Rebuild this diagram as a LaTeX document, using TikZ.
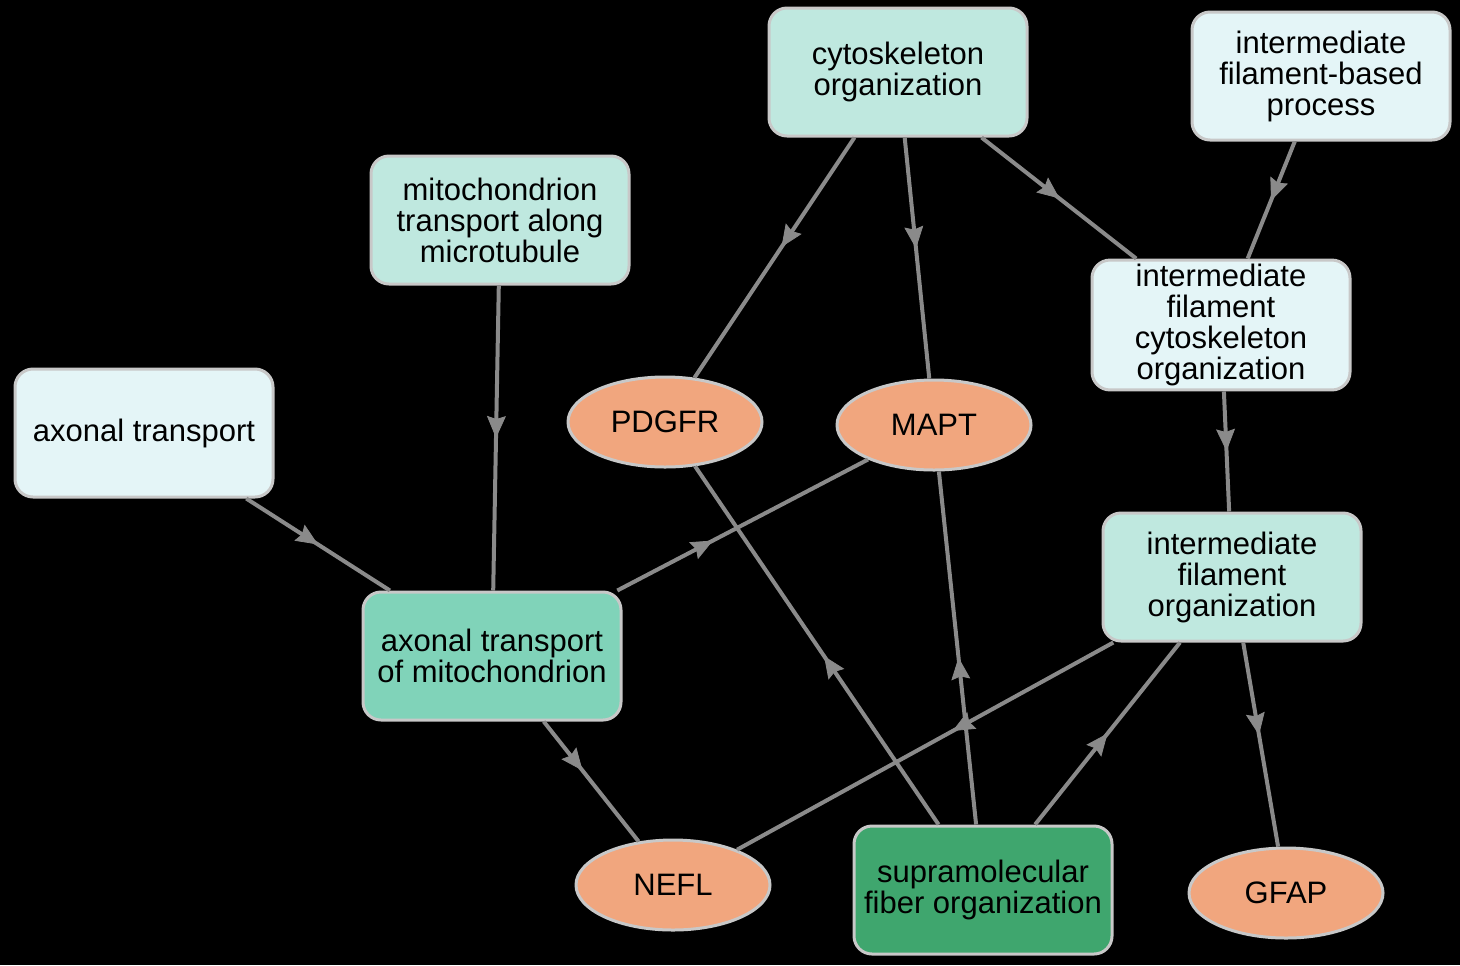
\documentclass[tikz,border=0pt]{standalone}
\usepackage{fontspec}
\setmainfont{Liberation Sans}
\usetikzlibrary{shapes,arrows.meta,decorations.markings}

\definecolor{termpale}{HTML}{E4F5F7}
\definecolor{termlight}{HTML}{BFE8DF}
\definecolor{termmid}{HTML}{80D3B9}
\definecolor{termdark}{HTML}{3FA66E}
\definecolor{genefill}{HTML}{F1A67E}
\definecolor{rimgray}{HTML}{C8C8C8}
\definecolor{edgegray}{HTML}{8A8A8A}

\begin{document}
\begin{tikzpicture}[
    x=0.5pt, y=-0.5pt,
    every node/.style={draw=rimgray, line width=1.5pt, font=\fontsize{15.5}{15.5}\selectfont, align=center, text=black},
    term/.style={rectangle, rounded corners=9pt, minimum width=129pt, minimum height=64pt, inner sep=2pt},
    gene/.style={ellipse, fill=genefill, minimum width=97pt, minimum height=45pt},
    link/.style={draw=edgegray, line width=2pt},
    midtip/.style={decorate, decoration={markings, mark=at position 0.5 with {\arrow[edgegray]{Stealth[length=11pt,width=9.5pt,inset=1.5pt]}}}}
]
\fill[black] (0,0) rectangle (1460,965);

% terms
\node[term, fill=termlight] (cyto) at (898,72) {cytoskeleton\\organization};
\node[term, fill=termpale] (ifproc) at (1321,76) {intermediate\\filament-based\\process};
\node[term, fill=termlight] (mitomt) at (500,220) {mitochondrion\\transport along\\microtubule};
\node[term, fill=termpale] (ifcyto) at (1221,325) {intermediate\\filament\\cytoskeleton\\organization};
\node[term, fill=termpale] (axtr) at (144,433) {axonal transport};
\node[term, fill=termlight] (iforg) at (1232,577) {intermediate\\filament\\organization};
\node[term, fill=termmid] (axmito) at (492,656) {axonal transport\\of mitochondrion};
\node[term, fill=termdark] (supra) at (983,890) {supramolecular\\fiber organization};

% genes
\node[gene] (pdgfr) at (665,422) {PDGFR};
\node[gene] (mapt) at (934,425) {MAPT};
\node[gene] (nefl) at (673,885) {NEFL};
\node[gene] (gfap) at (1286,893) {GFAP};

% links, tip half way between the centres
\foreach \a/\b in {cyto/pdgfr, cyto/mapt, cyto/ifcyto, ifproc/ifcyto, ifcyto/iforg,
    mitomt/axmito, axtr/axmito, axmito/mapt, axmito/nefl, supra/pdgfr,
    supra/mapt, supra/iforg, iforg/nefl, iforg/gfap}
{
    \draw[link] (\a) -- (\b);
    \path[midtip] (\a.center) -- (\b.center);
}
\end{tikzpicture}
\end{document}
